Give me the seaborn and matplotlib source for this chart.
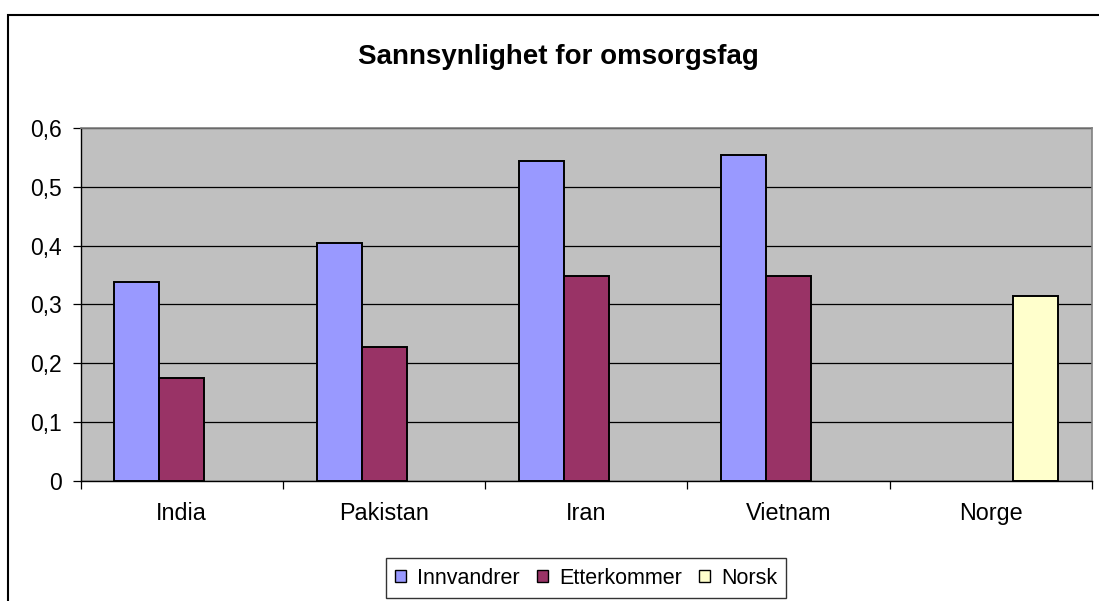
import numpy as np
import pandas as pd
import seaborn as sns
import matplotlib.pyplot as plt
from matplotlib.patches import Rectangle
from matplotlib.ticker import FixedLocator, FuncFormatter

# data
categories = ["India", "Pakistan", "Iran", "Vietnam", "Norge"]
groups = ["Innvandrer", "Etterkommer", "Norsk"]
innvandrer = [0.338, 0.405, 0.545, 0.554, np.nan]
etterkommer = [0.175, 0.228, 0.348, 0.348, np.nan]
norsk = [np.nan, np.nan, np.nan, np.nan, 0.314]

colors = ["#9999FF", "#993366", "#FFFFCC"]

sns.set_theme(style="white")
plt.rcParams["font.family"] = ["Liberation Sans", "DejaVu Sans"]
plt.rcParams["text.color"] = "black"
plt.rcParams["xtick.color"] = "black"
plt.rcParams["ytick.color"] = "black"

rows = []
for name, vals in zip(groups, [innvandrer, etterkommer, norsk]):
    for cat, v in zip(categories, vals):
        rows.append({"land": cat, "gruppe": name, "verdi": v})
df = pd.DataFrame(rows).dropna()

fig = plt.figure(figsize=(10.99, 6.01), dpi=100)
ax = fig.add_axes([0.0734, 0.2002, 0.9202, 0.5863])

sns.barplot(data=df, x="land", y="verdi", hue="gruppe", order=categories,
            hue_order=groups, palette=colors, width=0.668, saturation=1,
            edgecolor="black", linewidth=1.4, ax=ax, legend=False, zorder=3)

ax.set_facecolor("#C0C0C0")
ax.set_xlim(-0.5, len(categories) - 0.5)
ax.set_ylim(0, 0.6)
ax.set_yticks(np.arange(0, 0.61, 0.1))
ax.yaxis.set_major_formatter(FuncFormatter(lambda v, p: f"{v:.1f}".replace(".", ",").replace("0,0", "0")))
ax.yaxis.grid(True, color="black", linewidth=0.9, zorder=1)
ax.set_axisbelow(True)

# ticks between categories, labels at the centres
ax.xaxis.set_major_locator(FixedLocator(np.arange(-0.5, len(categories), 1.0)))
ax.xaxis.set_major_formatter(FuncFormatter(lambda v, p: ""))
ax.xaxis.set_minor_locator(FixedLocator(np.arange(len(categories))))
ax.set_xticklabels(categories, minor=True)
ax.tick_params(axis="x", which="major", direction="out", length=5.5, width=0.9, color="black", bottom=True)
ax.tick_params(axis="x", which="minor", length=0, pad=15, labelsize=16.8)
ax.tick_params(axis="y", direction="out", length=5.8, width=0.9, color="black", left=True, pad=7.5, labelsize=16.5)
ax.set_xlabel("")
ax.set_ylabel("")

for side in ["top", "right"]:
    ax.spines[side].set_color("#808080")
    ax.spines[side].set_linewidth(1.2)
for side in ["left", "bottom"]:
    ax.spines[side].set_color("black")
    ax.spines[side].set_linewidth(1.0)

fig.text(0.508, 0.905, "Sannsynlighet for omsorgsfag", ha="center", va="center",
         fontsize=20, fontweight="bold")

handles = [Rectangle((0, 0), 1, 1, facecolor=c, edgecolor="black", linewidth=1.0) for c in colors]
leg = fig.legend(handles, groups, loc="center", bbox_to_anchor=(586 / 1099, 1 - 578 / 601), ncol=3,
                 fontsize=15.5, frameon=True, fancybox=False, handlelength=0.52, handleheight=0.52,
                 handletextpad=0.5, columnspacing=0.8, borderpad=0.42, borderaxespad=0)
leg.get_frame().set_edgecolor("black")
leg.get_frame().set_linewidth(1.0)

# outer chart border (cut off at the right and bottom)
fig.patches.append(Rectangle((8 / 1099, -0.05), 1.05, 1 - 14.7 / 601 + 0.05, transform=fig.transFigure,
                             fill=False, edgecolor="black", linewidth=1.5, clip_on=False))

fig.savefig("out.png", dpi=100)
